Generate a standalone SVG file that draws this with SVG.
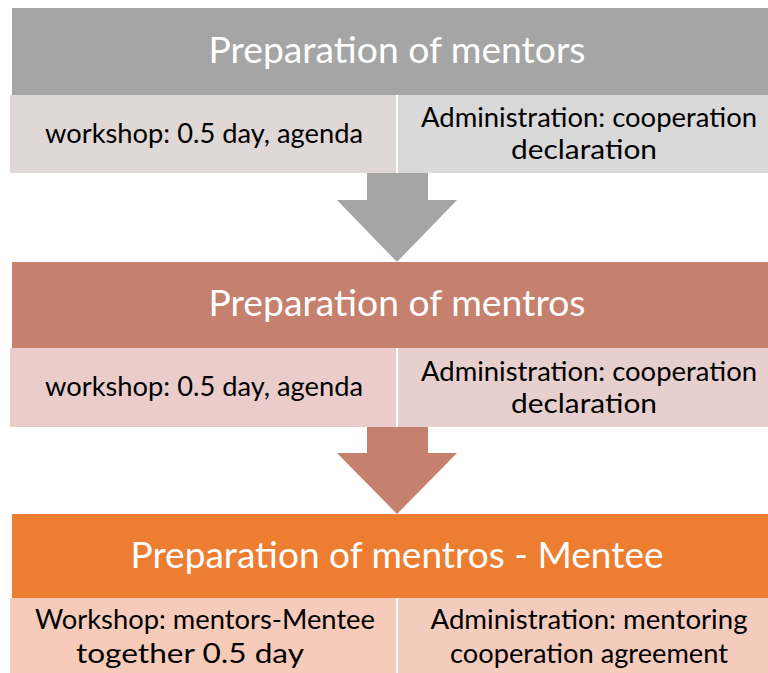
<svg xmlns="http://www.w3.org/2000/svg" width="768" height="673" viewBox="0 0 768 673">
  <style>
    .title { font-family: Lato, "Open Sans", "Liberation Sans", sans-serif; font-size: 36px; fill: #ffffff; text-anchor: middle; }
    .body { font-family: Lato, "Open Sans", "Liberation Sans", sans-serif; font-size: 27px; fill: #000000; text-anchor: middle; }
    .sep { stroke: #ffffff; stroke-width: 2; }
  </style>
  <rect width="768" height="673" fill="#ffffff"/>

  <!-- connectors: block arrows between the stages -->
  <g id="connectors">
    <polygon points="367,173 428,173 428,200 457,200 397,262 337,200 367,200" fill="#a5a5a5"/>
    <polygon points="367,427 428,427 428,453 457,453 397,514 337,453 367,453" fill="#c5806e"/>
  </g>

  <!-- stage 1 -->
  <g id="stage1">
    <rect x="12" y="8" width="756" height="87" fill="#a5a5a5"/>
    <text class="title" x="397" y="63" textLength="377" lengthAdjust="spacingAndGlyphs">Preparation of mentors</text>
    <rect x="10" y="95" width="387" height="78" fill="#e0d7d7"/>
    <rect x="397" y="95" width="371" height="78" fill="#d9d9d9"/>
    <line class="sep" x1="397" y1="95" x2="397" y2="173"/>
    <text class="body" x="204" y="143" textLength="318" lengthAdjust="spacingAndGlyphs">workshop: 0.5 day, agenda</text>
    <text class="body" x="589" y="127" textLength="336" lengthAdjust="spacingAndGlyphs">Administration: cooperation</text>
    <text class="body" x="584" y="159" textLength="146" lengthAdjust="spacingAndGlyphs">declaration</text>
  </g>

  <!-- stage 2 -->
  <g id="stage2">
    <rect x="12" y="262" width="756" height="86" fill="#c5806e"/>
    <text class="title" x="397" y="316" textLength="377" lengthAdjust="spacingAndGlyphs">Preparation of mentros</text>
    <rect x="10" y="348" width="387" height="79" fill="#eacdca"/>
    <rect x="397" y="348" width="371" height="79" fill="#e6cfcd"/>
    <line class="sep" x1="397" y1="348" x2="397" y2="427"/>
    <text class="body" x="204" y="396" textLength="318" lengthAdjust="spacingAndGlyphs">workshop: 0.5 day, agenda</text>
    <text class="body" x="589" y="381" textLength="336" lengthAdjust="spacingAndGlyphs">Administration: cooperation</text>
    <text class="body" x="584" y="413" textLength="146" lengthAdjust="spacingAndGlyphs">declaration</text>
  </g>

  <!-- stage 3 -->
  <g id="stage3">
    <rect x="12" y="514" width="756" height="84" fill="#ed7d31"/>
    <text class="title" x="397" y="568" textLength="533" lengthAdjust="spacingAndGlyphs">Preparation of mentros - Mentee</text>
    <rect x="10" y="598" width="387" height="75" fill="#f6cbb9"/>
    <rect x="397" y="598" width="371" height="75" fill="#f4ccbe"/>
    <line class="sep" x1="397" y1="598" x2="397" y2="673"/>
    <text class="body" x="205" y="629" textLength="340" lengthAdjust="spacingAndGlyphs">Workshop: mentors-Mentee</text>
    <text class="body" x="190" y="663" textLength="228" lengthAdjust="spacingAndGlyphs">together 0.5 day</text>
    <text class="body" x="589" y="629" textLength="317" lengthAdjust="spacingAndGlyphs">Administration: mentoring</text>
    <text class="body" x="589" y="663" textLength="278" lengthAdjust="spacingAndGlyphs">cooperation agreement</text>
  </g>
</svg>
